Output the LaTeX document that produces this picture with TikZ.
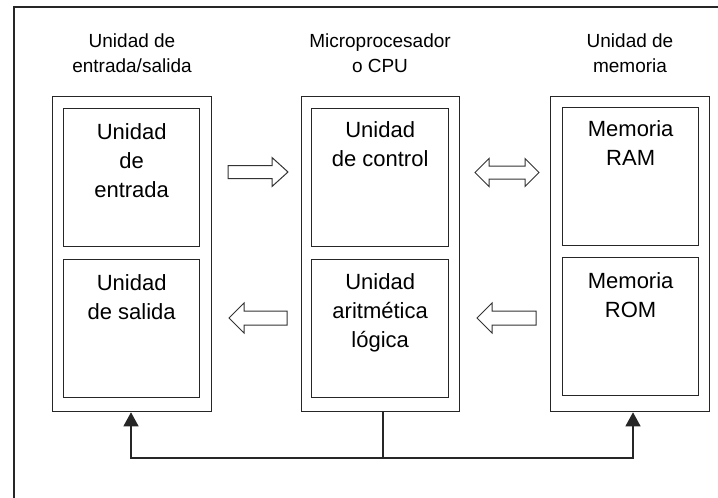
\documentclass[tikz,border=0pt]{standalone}
\usepackage{fontspec}
\setmainfont{Liberation Sans}
\usetikzlibrary{arrows.meta,positioning}
\begin{document}
\begin{tikzpicture}[x=1pt,y=-1pt,
  frame/.style={line width=1.3pt,draw=black!85},
  unitbox/.style={draw=black!85,line width=1.3pt,anchor=north west,inner sep=0pt,
    minimum height=315pt},
  partbox/.style={draw=black!85,line width=1.3pt,anchor=north west,inner sep=0pt,
    minimum height=138pt},
  title/.style={anchor=north,align=center,inner sep=0pt,
    font=\fontsize{19}{25}\selectfont},
  parttext/.style={align=center,inner sep=0pt,
    font=\fontsize{22}{29}\selectfont},
  blockarrow/.style={draw=black!80,line width=1pt,line join=miter,fill=white},
  bus/.style={draw=black!85,line width=1.3pt,
    {Triangle[length=14pt,width=15pt]}-{Triangle[length=14pt,width=15pt]}}]
\useasboundingbox (0,0) rectangle (718,498);

% outer frame, running off the right and bottom edges
\draw[frame] (14,505) -- (14,7) -- (725,7);

% titles
\node[title] (tio)  at (132,34) {Unidad de\\entrada/salida};
\node[title] (tcpu) at (380,34) {Microprocesador\\o CPU};
\node[title] (tmem) at (630,34) {Unidad de\\memoria};

% main units
\node[unitbox,minimum width=159pt] (io)  at (52,96)  {};
\node[unitbox,minimum width=158pt] (cpu) at (301,96) {};
\node[unitbox,minimum width=159pt] (mem) at (550,96) {};

% sub-units
\node[partbox,minimum width=136pt] (inp) at (63,108)  {};
\node[partbox,minimum width=136pt] (out) at (63,259)  {};
\node[partbox,minimum width=137pt] (cu)  at (311,108) {};
\node[partbox,minimum width=137pt] (alu) at (311,259) {};
\node[partbox,minimum width=136pt] (ram) at (562,107) {};
\node[partbox,minimum width=136pt] (rom) at (562,257) {};

\node[parttext,below=15pt of inp.north] (tinp) {Unidad\\de\\entrada};
\node[parttext,below=15pt of out.north] (tout) {Unidad\\de salida};
\node[parttext,below=13pt of cu.north]  (tcu)  {Unidad\\de control};
\node[parttext,below=14pt of alu.north] (talu) {Unidad\\aritmética\\lógica};
\node[parttext,below=13pt of ram.north] (tram) {Memoria\\RAM};
\node[parttext,below=15pt of rom.north] (trom) {Memoria\\ROM};

% data flow arrows between units
\draw[blockarrow] (228,165.5) -- (272,165.5) -- (272,157.5) -- (288,172)
  -- (272,186.5) -- (272,178.5) -- (228,178.5) -- cycle;
\draw[blockarrow] (475,172.5) -- (489,158.5) -- (489,166) -- (525,166)
  -- (525,158.5) -- (539,172.5) -- (525,186.5) -- (525,179) -- (489,179)
  -- (489,186.5) -- cycle;
\draw[blockarrow] (229,318) -- (244,303) -- (244,311) -- (287,311)
  -- (287,325) -- (244,325) -- (244,333) -- cycle;
\draw[blockarrow] (477,318) -- (492,303) -- (492,311) -- (536,311)
  -- (536,325) -- (492,325) -- (492,333) -- cycle;

% control bus
\coordinate (busL) at (131,458);
\coordinate (busM) at (383,458);
\coordinate (busR) at (633,458);
\draw[draw=black!85,line width=1.3pt] (busM |- cpu.south) -- (busM);
\draw[bus] (busL |- io.south) -- (busL) -- (busR) -- (busR |- mem.south);
\end{tikzpicture}
\end{document}
